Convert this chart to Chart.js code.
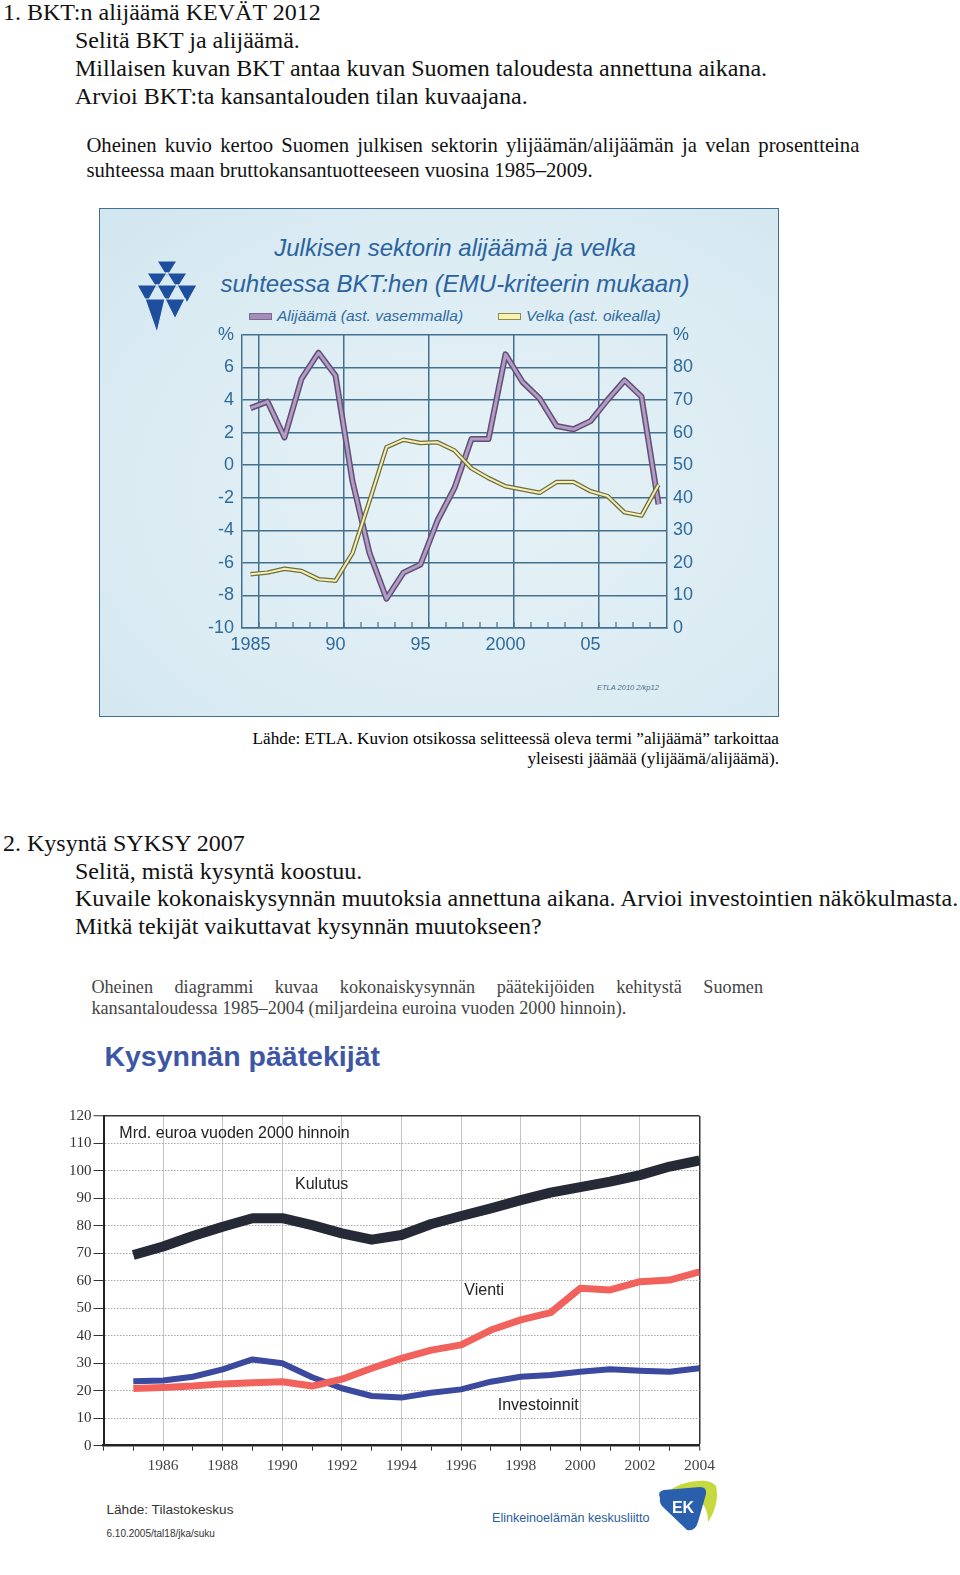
<!DOCTYPE html>
<html lang="fi">
<head>
<meta charset="utf-8">
<title>BKT:n alijäämä ja kysynnän päätekijät</title>
<script src="https://cdn.jsdelivr.net/npm/chart.js@4.4.1/dist/chart.umd.min.js"></script>
<style>
  html, body { margin: 0; padding: 0; background: #fff; }
  body { width: 960px; height: 1575px; position: relative; overflow: hidden;
         font-family: 'Liberation Serif', 'Times New Roman', serif; color: #111; }
  .abs { position: absolute; white-space: nowrap; }
  .task { font-size: 24px; line-height: 27.8px; color: #111; }
  .sans { font-family: 'Liberation Sans', Arial, sans-serif; }
  .just { text-align: justify; text-align-last: justify; white-space: normal; }
  #box1 { position: absolute; left: 98.5px; top: 208px; width: 680.5px; height: 509px;
          box-sizing: border-box; border: 1.5px solid #44708f;
          background: radial-gradient(ellipse at 55% 55%, #e6f2f7 0%, #dcecf3 60%, #d2e6ef 100%); }
  .t1 { font-style: italic; font-size: 24px; line-height: 36px; color: #2b63a0; text-align: center; }
  .leg { font-style: italic; font-size: 15.5px; line-height: 18px; color: #2f6aa0; }
  .sw { display: inline-block; width: 21px; height: 5px; vertical-align: middle; margin-right: 5px; position: relative; top: -1px; }
  canvas { position: absolute; }
</style>
</head>
<body>

<div class="abs task" style="left:3px; top:-1px;">1. BKT:n alijäämä KEVÄT 2012</div>
<div class="abs task" style="left:75px; top:27px;">Selitä BKT ja alijäämä.<br>Millaisen kuvan BKT antaa kuvan Suomen taloudesta annettuna aikana.<br>Arvioi BKT:ta kansantalouden tilan kuvaajana.</div>

<div class="abs" style="left:86.4px; top:133px; width:773px; font-size:20.7px; line-height:25px;">
  <div class="just">Oheinen kuvio kertoo Suomen julkisen sektorin ylijäämän/alijäämän ja velan prosentteina</div>
  <div>suhteessa maan bruttokansantuotteeseen vuosina 1985–2009.</div>
</div>

<div id="box1"></div>

<svg class="abs" style="left:135px; top:261px;" width="62" height="72" viewBox="0 0 62 72">
  <g fill="#1d4f9e" stroke="#dcecf3" stroke-width="1.2">
    <polygon points="22,0 42,0 32,16"/>
    <polygon points="12,12 32,12 22,28"/>
    <polygon points="32,12 52,12 42,28"/>
    <polygon points="2,24 22,24 12,42"/>
    <polygon points="22,24 42,24 32,42"/>
    <polygon points="42,24 62,24 52,42"/>
    <polygon points="10,38 30,38 22,72"/>
    <polygon points="30,38 50,38 40,58"/>
  </g>
</svg>

<div class="abs sans t1" style="left:205px; top:229.5px; width:500px;">Julkisen sektorin alijäämä ja velka<br>suhteessa BKT:hen (EMU-kriteerin mukaan)</div>

<div class="abs sans leg" style="left:249px; top:307.4px;"><span class="sw" style="background:#a58bb8; border:1px solid #7d6890;"></span>Alijäämä (ast. vasemmalla)</div>
<div class="abs sans leg" style="left:498px; top:307.4px;"><span class="sw" style="background:#f7f1b4; border:1px solid #8f8a48;"></span>Velka (ast. oikealla)</div>

<canvas id="c1" width="540" height="345" style="left:180px; top:316px; width:540px; height:345px;"></canvas>

<div class="abs sans" style="left:597px; top:683px; font-size:7.5px; font-style:italic; color:#4d6f8e;">ETLA 2010 2/kp12</div>

<div class="abs" style="right:181px; top:729px; font-size:17.2px; line-height:20px; text-align:right; color:#000;">Lähde: ETLA. Kuvion otsikossa selitteessä oleva termi ”alijäämä” tarkoittaa<br>yleisesti jäämää (ylijäämä/alijäämä).</div>

<div class="abs task" style="left:3px; top:829.7px;">2. Kysyntä SYKSY 2007</div>
<div class="abs task" style="left:75px; top:857.5px;">Selitä, mistä kysyntä koostuu.<br>Kuvaile kokonaiskysynnän muutoksia annettuna aikana. Arvioi investointien näkökulmasta.<br>Mitkä tekijät vaikuttavat kysynnän muutokseen?</div>

<div class="abs" style="left:91.4px; top:977px; width:671.6px; font-size:18.2px; line-height:21px; color:#444;">
  <div class="just">Oheinen diagrammi kuvaa kokonaiskysynnän päätekijöiden kehitystä Suomen</div>
  <div>kansantaloudessa 1985–2004 (miljardeina euroina vuoden 2000 hinnoin).</div>
</div>

<div class="abs sans" style="left:104.4px; top:1040.4px; font-size:28.5px; line-height:32px; font-weight:bold; color:#3d56a6;">Kysynnän päätekijät</div>

<canvas id="c2" width="710" height="385" style="left:30px; top:1098px; width:710px; height:385px;"></canvas>

<div class="abs sans" style="left:119.3px; top:1123px; font-size:16px; line-height:20px; color:#222;">Mrd. euroa vuoden 2000 hinnoin</div>
<div class="abs sans" style="left:295px; top:1174.4px; font-size:16px; line-height:20px; color:#222;">Kulutus</div>
<div class="abs sans" style="left:464.3px; top:1280.4px; font-size:16px; line-height:20px; color:#222;">Vienti</div>
<div class="abs sans" style="left:497.7px; top:1395.4px; font-size:16px; line-height:20px; color:#222;">Investoinnit</div>

<div class="abs sans" style="left:106.5px; top:1501.7px; font-size:13.6px; line-height:16px; color:#333;">Lähde: Tilastokeskus</div>
<div class="abs sans" style="left:106.5px; top:1527.8px; font-size:10px; line-height:12px; color:#333;">6.10.2005/tal18/jka/suku</div>
<div class="abs sans" style="left:492px; top:1511.2px; font-size:12.6px; line-height:15px; color:#2b5c9e;">Elinkeinoelämän keskusliitto</div>

<svg class="abs" style="left:654px; top:1478px;" width="66" height="58" viewBox="0 0 66 58">
  <path d="M16,12 C30,2 56,-1 62,8 C65,20 61,34 54,44 C54,30 50,18 16,12 Z" fill="#c6d93e"/>
  <path d="M6,20 Q3,13 10,12 L46,9 Q53,9 52,16 L44,44 Q41,54 33,52 L10,30 Q5,26 6,20 Z" fill="#2a5fae"/>
  <text x="29" y="35" text-anchor="middle" font-family="Liberation Sans, Arial, sans-serif" font-weight="bold" font-size="16" fill="#fff">EK</text>
</svg>

<script>
'use strict';

// ---- chart 1: julkisen sektorin alijäämä ja velka ----
const years1 = [1985, 1986, 1987, 1988, 1989, 1990, 1991, 1992, 1993, 1994, 1995, 1996,
  1997, 1998, 1999, 2000, 2001, 2002, 2003, 2004, 2005, 2006, 2007, 2008, 2009];
// alijäämä, % BKT:sta (vasen asteikko)
const deficit = [3.5, 3.9, 1.7, 5.3, 6.9, 5.5, -1.0, -5.4, -8.2, -6.6, -6.1, -3.4,
  -1.4, 1.6, 1.6, 6.8, 5.1, 4.1, 2.4, 2.2, 2.7, 4.0, 5.2, 4.2, -2.4];
// velka, % BKT:sta (oikea asteikko)
const debt = [16.5, 17.0, 18.2, 17.5, 15.0, 14.5, 23.0, 39.0, 55.5, 57.8, 56.8, 57.0,
  54.5, 49.0, 46.0, 43.5, 42.5, 41.5, 44.8, 44.8, 42.0, 40.5, 35.5, 34.5, 44.0];
const xTickYears = [1985, 1990, 1995, 2000, 2005];
const xTickLabels = ['1985', '90', '95', '2000', '05'];

// ---- chart 2: kysynnän päätekijät ----
const years2 = [1985, 1986, 1987, 1988, 1989, 1990, 1991, 1992, 1993, 1994, 1995, 1996,
  1997, 1998, 1999, 2000, 2001, 2002, 2003, 2004];
const kulutus = [69.4, 72.5, 76.3, 79.7, 82.8, 82.8, 80.3, 77.3, 75.0, 76.7, 80.7, 83.6,
  86.4, 89.4, 92.1, 94.1, 96.1, 98.5, 101.6, 103.8];
const vienti = [20.8, 21.2, 21.7, 22.5, 22.9, 23.3, 21.7, 24.2, 28.2, 31.8, 34.8, 36.7,
  42.1, 45.8, 48.4, 57.3, 56.7, 59.7, 60.3, 63.3];
const investoinnit = [23.5, 23.7, 25.1, 27.8, 31.4, 30.0, 24.9, 20.9, 18.1, 17.5, 19.3, 20.5,
  23.3, 25.1, 25.7, 26.9, 27.8, 27.3, 26.9, 28.2];

const SANS = "'Liberation Sans', Arial, sans-serif";
const SERIF = "'Liberation Serif', 'Times New Roman', serif";
const GRID1 = '#44708f';
const BLUE_TXT = '#2e6a9c';

const toPts = (xs, ys) => xs.map((x, i) => ({ x: x, y: ys[i] }));

// short year ticks drawn upward from the bottom axis
const yearTicks = {
  id: 'yearTicks',
  beforeDatasetsDraw(chart) {
    const x = chart.scales.x;
    const bottom = chart.chartArea.bottom;
    const c = chart.ctx;
    c.save();
    c.strokeStyle = GRID1;
    c.lineWidth = 1.2;
    x.ticks.forEach((t) => {
      const frac = t.value - Math.floor(t.value);
      if (Math.abs(frac - 0.5) < 1e-6 && t.value > x.min && t.value < x.max) {
        const px = x.getPixelForValue(t.value);
        c.beginPath();
        c.moveTo(px, bottom);
        c.lineTo(px, bottom - 6);
        c.stroke();
      }
    });
    c.restore();
  }
};

const isMajor1 = (v) => xTickYears.some((y) => Math.abs(v - (y + 0.5)) < 1e-6);

new Chart(document.getElementById('c1'), {
  type: 'line',
  data: {
    datasets: [
      { data: toPts(years1, debt), yAxisID: 'y2', borderColor: '#f6f0b4', borderWidth: 2 },
      { data: toPts(years1, debt), yAxisID: 'y2', borderColor: '#6f6c3e', borderWidth: 4.5 },
      { data: toPts(years1, deficit), yAxisID: 'y', borderColor: '#b39bc6', borderWidth: 3 },
      { data: toPts(years1, deficit), yAxisID: 'y', borderColor: '#5f5072', borderWidth: 6 }
    ]
  },
  options: {
    responsive: false,
    animation: false,
    devicePixelRatio: 1,
    layout: { padding: { top: 14, left: 0, right: 0, bottom: 0 } },
    elements: {
      point: { radius: 0 },
      line: { tension: 0, borderJoinStyle: 'round', fill: false }
    },
    plugins: { legend: { display: false }, tooltip: { enabled: false } },
    scales: {
      x: {
        type: 'linear',
        min: 1984.5,
        max: 2009.5,
        afterFit: (s) => { s.height = 33; },
        grid: {
          color: (c) => (c.tick && isMajor1(c.tick.value) ? GRID1 : 'transparent'),
          lineWidth: 1.5,
          drawTicks: false
        },
        border: { color: GRID1, width: 1.5 },
        ticks: {
          stepSize: 0.5,
          autoSkip: false,
          maxRotation: 0,
          padding: 6,
          color: BLUE_TXT,
          font: { family: SANS, size: 18 },
          callback: (v) => {
            const i = xTickYears.findIndex((y) => Math.abs(y - v) < 1e-6);
            return i >= 0 ? xTickLabels[i] : '';
          }
        }
      },
      y: {
        position: 'left',
        min: -10,
        max: 8,
        afterFit: (s) => { s.width = 62; },
        grid: { color: GRID1, lineWidth: 1.5, drawTicks: false },
        border: { color: GRID1, width: 1.5 },
        ticks: {
          stepSize: 2,
          padding: 8,
          color: BLUE_TXT,
          font: { family: SANS, size: 18 },
          callback: (v) => (v === 8 ? '%' : v)
        }
      },
      y2: {
        position: 'right',
        min: 0,
        max: 90,
        afterFit: (s) => { s.width = 53; },
        grid: { drawOnChartArea: false, drawTicks: false },
        border: { color: GRID1, width: 1.5 },
        ticks: {
          stepSize: 10,
          padding: 6,
          color: BLUE_TXT,
          font: { family: SANS, size: 18 },
          callback: (v) => (v === 90 ? '%' : v)
        }
      }
    }
  },
  plugins: [yearTicks]
});

new Chart(document.getElementById('c2'), {
  type: 'line',
  data: {
    labels: years2,
    datasets: [
      { label: 'Vienti', data: toPts(years2, vienti), borderColor: '#f2625c', borderWidth: 7 },
      { label: 'Investoinnit', data: toPts(years2, investoinnit), borderColor: '#3b4a9e', borderWidth: 6 },
      { label: 'Kulutus', data: toPts(years2, kulutus), borderColor: '#252a36', borderWidth: 10 }
    ]
  },
  options: {
    responsive: false,
    animation: false,
    devicePixelRatio: 1,
    layout: { padding: { top: 18, right: 40.5, left: 0, bottom: 0 } },
    elements: {
      point: { radius: 0 },
      line: { tension: 0, borderJoinStyle: 'round', borderCapStyle: 'butt', fill: false }
    },
    plugins: { legend: { display: false }, tooltip: { enabled: false } },
    scales: {
      x: {
        type: 'linear',
        min: 1984,
        max: 2004,
        afterFit: (s) => { s.height = 37.3; },
        grid: {
          color: (c) => {
            if (!c.tick) return 'transparent';
            if (c.tick.value === 2004) return '#333';
            return c.tick.value % 2 === 0 ? '#c4c4c4' : 'transparent';
          },
          lineWidth: (c) => (c.tick && c.tick.value === 2004 ? 1.5 : 1),
          tickColor: '#333',
          tickLength: 5,
          tickWidth: 1
        },
        border: { color: '#222', width: 2.5 },
        ticks: {
          stepSize: 1,
          autoSkip: false,
          maxRotation: 0,
          padding: 6,
          color: '#444',
          font: { family: SERIF, size: 15.5 },
          callback: (v) => (v % 2 === 0 && v >= 1986 ? String(v) : '')
        }
      },
      y: {
        min: 0,
        max: 120,
        afterFit: (s) => { s.width = 73.5; },
        grid: {
          color: (c) => (c.tick && c.tick.value === 120 ? '#333' : '#a8a8a8'),
          lineWidth: (c) => (c.tick && c.tick.value === 120 ? 1.5 : 1),
          tickColor: '#333',
          tickLength: 10,
          tickWidth: 1
        },
        border: {
          color: '#222',
          width: 2,
          dash: (c) => (c.tick && c.tick.value !== 120 && c.tick.value !== 0 ? [1.5, 1.5] : [])
        },
        ticks: {
          stepSize: 10,
          padding: 2,
          color: '#333',
          font: { family: SERIF, size: 15 }
        }
      }
    }
  }
});
</script>
</body>
</html>
